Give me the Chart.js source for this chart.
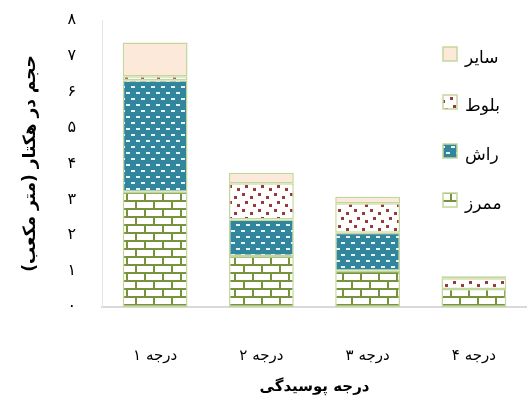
<!DOCTYPE html>
<html><head><meta charset="utf-8">
<script src="https://cdn.jsdelivr.net/npm/chart.js@4"></script>
<style>html,body{margin:0;padding:0;background:#fff}#wrap{width:527px;height:408px}</style>
</head><body><div id="wrap"><canvas id="c" width="527" height="408"></canvas></div>
<script>
const categories = ['درجه ۱','درجه ۲','درجه ۳','درجه ۴'];
const memrez = [3.21, 1.42, 1.01, 0.50];
const rash   = [3.11, 1.02, 1.06, 0.00];
const baloot = [0.11, 1.01, 0.82, 0.30];
const sayer  = [0.94, 0.29, 0.18, 0.06];
const seriesNames = ['ممرز','راش','بلوط','سایر'];
const tickLabels = ['۰','۱','۲','۳','۴','۵','۶','۷','۸'];
const yTitle = 'حجم در هکتار (متر مکعب)';
const xTitle = 'درجه پوسیدگی';

function makePattern(w,h,draw){
  const cv=document.createElement('canvas');cv.width=w;cv.height=h;
  const g=cv.getContext('2d');draw(g);
  return document.getElementById('c').getContext('2d').createPattern(cv,'repeat');
}
const brick = makePattern(18,16,g=>{
  g.fillStyle='#fff';g.fillRect(0,0,18,16);
  g.fillStyle='#77933c';
  g.fillRect(0,0,18,2);g.fillRect(0,8,18,2);
  g.fillRect(0,0,2,8);g.fillRect(9,8,2,8);
});
const teal = makePattern(10,12,g=>{
  g.fillStyle='#31859c';g.fillRect(0,0,10,12);
  g.fillStyle='#e4f3f6';
  g.fillRect(1,2,4,2);g.fillRect(6,8,4,2);
});
const oak = makePattern(16,16,g=>{
  g.fillStyle='#fff';g.fillRect(0,0,16,16);
  g.fillStyle='#983a38';
  g.fillRect(2,1,3,3);g.fillRect(10,4,3,3);g.fillRect(5,9,3,3);g.fillRect(13,12,3,3);
});
const other = '#fde9d9';
const fills = [brick, teal, oak, other];
const dataArr = [memrez, rash, baloot, sayer];

const legendPlugin = {
  id:'customLegend',
  afterDraw(chart){
    const ctx=chart.ctx;
    const ds=chart.data.datasets;
    ctx.save();
    const ys=[54,102,151,200];
    for(let k=0;k<ds.length;k++){
      const d=ds[ds.length-1-k];
      const y=ys[k];
      ctx.fillStyle=d.backgroundColor;
      ctx.fillRect(443,y-7,14,14);
      ctx.strokeStyle='#c3d69b';ctx.lineWidth=1.5;
      ctx.strokeRect(443,y-7,14,14);
      ctx.fillStyle='#000';
      ctx.font='17px "DejaVu Sans"';
      ctx.textAlign='left';ctx.textBaseline='middle';
      ctx.fillText(d.label,465,y+5);
    }
    ctx.restore();
  }
};

new Chart(document.getElementById('c'),{
  type:'bar',
  data:{labels:categories,datasets:seriesNames.map((n,i)=>({
    label:n,data:dataArr[i],backgroundColor:fills[i],
    borderColor:'#c3d69b',borderWidth:1.5,borderSkipped:false,
    barPercentage:0.61,categoryPercentage:1
  }))},
  options:{
    responsive:false,animation:false,
    layout:{padding:{top:20,right:0,left:0,bottom:0}},
    plugins:{legend:{display:false},tooltip:{enabled:false}},
    scales:{
      x:{stacked:true,
        grid:{display:false,drawTicks:false},
        border:{display:true,color:'#d9d9d9',width:2},
        ticks:{padding:40,color:'#000',font:{family:'DejaVu Sans',size:15}},
        title:{display:true,text:xTitle,color:'#000',font:{family:'DejaVu Sans',size:15,weight:'bold'},padding:{top:0,bottom:12}},
        afterFit(s){s.height=101;s.paddingLeft=0;s.paddingRight=0;}
      },
      y:{stacked:true,min:0,max:8,
        grid:{display:false,drawTicks:false},
        border:{display:true,color:'#e6e6e6',width:1},
        ticks:{stepSize:1,padding:26,color:'#000',font:{family:'DejaVu Sans',size:16},
          callback:(v)=>tickLabels[v]},
        title:{display:true,text:yTitle,color:'#000',font:{family:'DejaVu Sans',size:17,weight:'bold'},padding:{top:20,bottom:0}},
        afterFit(s){s.width=102;s.paddingTop=0;s.paddingBottom=0;}
      }
    }
  },
  plugins:[legendPlugin]
});
</script></body></html>
